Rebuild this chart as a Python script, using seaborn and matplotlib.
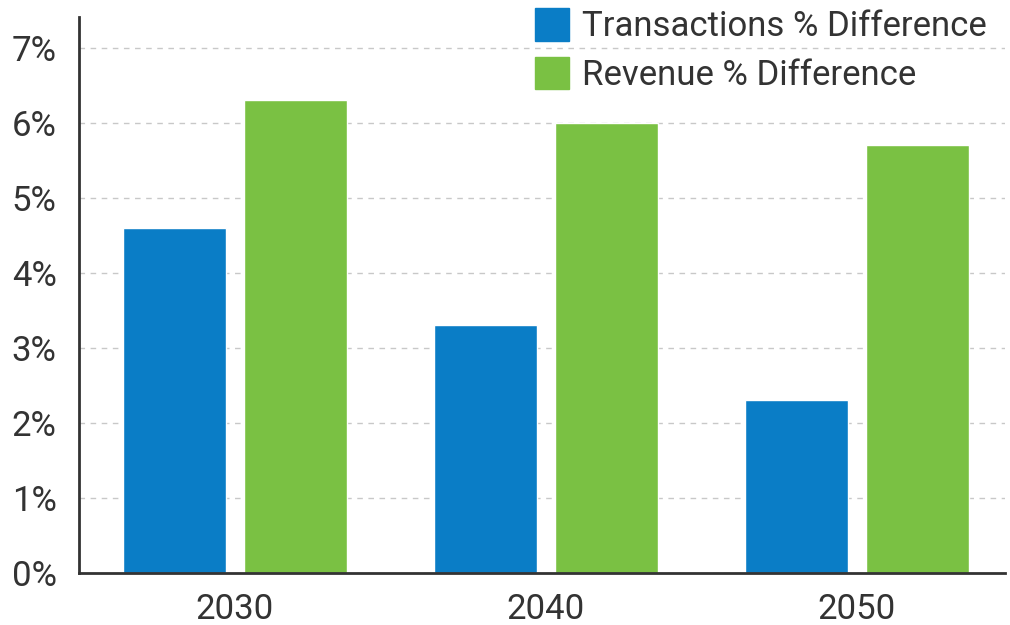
import matplotlib
matplotlib.use("Agg")
import matplotlib.pyplot as plt
import seaborn as sns
import pandas as pd
from matplotlib.ticker import FuncFormatter

# Projected differences by year
years = ["2030", "2040", "2050"]
transactions_diff = [4.6, 3.3, 2.3]
revenue_diff = [6.3, 6.0, 5.7]
series_names = ["Transactions % Difference", "Revenue % Difference"]
series_colors = ["#0A7DC6", "#7AC143"]

df = pd.DataFrame({
    "year": years * 2,
    "value": transactions_diff + revenue_diff,
    "series": [series_names[0]] * len(years) + [series_names[1]] * len(years),
})

sns.set_theme(style="white")
plt.rcParams["font.family"] = ["Roboto", "DejaVu Sans"]
text_color = "#333333"

fig = plt.figure(figsize=(10.1, 6.25), dpi=100)
ax = fig.add_axes([0.078, 0.083, 0.917, 0.890])

sns.barplot(data=df, x="year", y="value", hue="series", order=years,
            hue_order=series_names, palette=series_colors,
            width=0.778, gap=0.15, saturation=1, ax=ax, legend=False)

ax.set_ylim(0, 7.41)
ax.set_xlim(-0.502, 2.476)
ax.set_yticks(range(0, 8))
ax.yaxis.set_major_formatter(FuncFormatter(lambda v, _: f"{int(v)}%"))
ax.set_xlabel("")
ax.set_ylabel("")

ax.set_axisbelow(True)
ax.yaxis.grid(True, linestyle=(0, (4, 4)), color="#c8c8c8", linewidth=1)
ax.xaxis.grid(False)

for side in ["top", "right"]:
    ax.spines[side].set_visible(False)
for side in ["left", "bottom"]:
    ax.spines[side].set_color("#333333")
    ax.spines[side].set_linewidth(2)

ax.tick_params(axis="both", length=0, labelsize=25, colors=text_color)
ax.tick_params(axis="y", pad=16)
ax.tick_params(axis="x", pad=14)

handles = [plt.Rectangle((0, 0), 1, 1, color=c) for c in series_colors]
leg = fig.legend(handles, series_names, loc="upper left",
                 bbox_to_anchor=(0.525, 0.995), frameon=False, fontsize=25,
                 handlelength=0.98, handleheight=1.05, handletextpad=0.35,
                 labelspacing=0.4, borderaxespad=0, borderpad=0.15)
for t in leg.get_texts():
    t.set_color(text_color)

fig.savefig("out.png", dpi=100)
